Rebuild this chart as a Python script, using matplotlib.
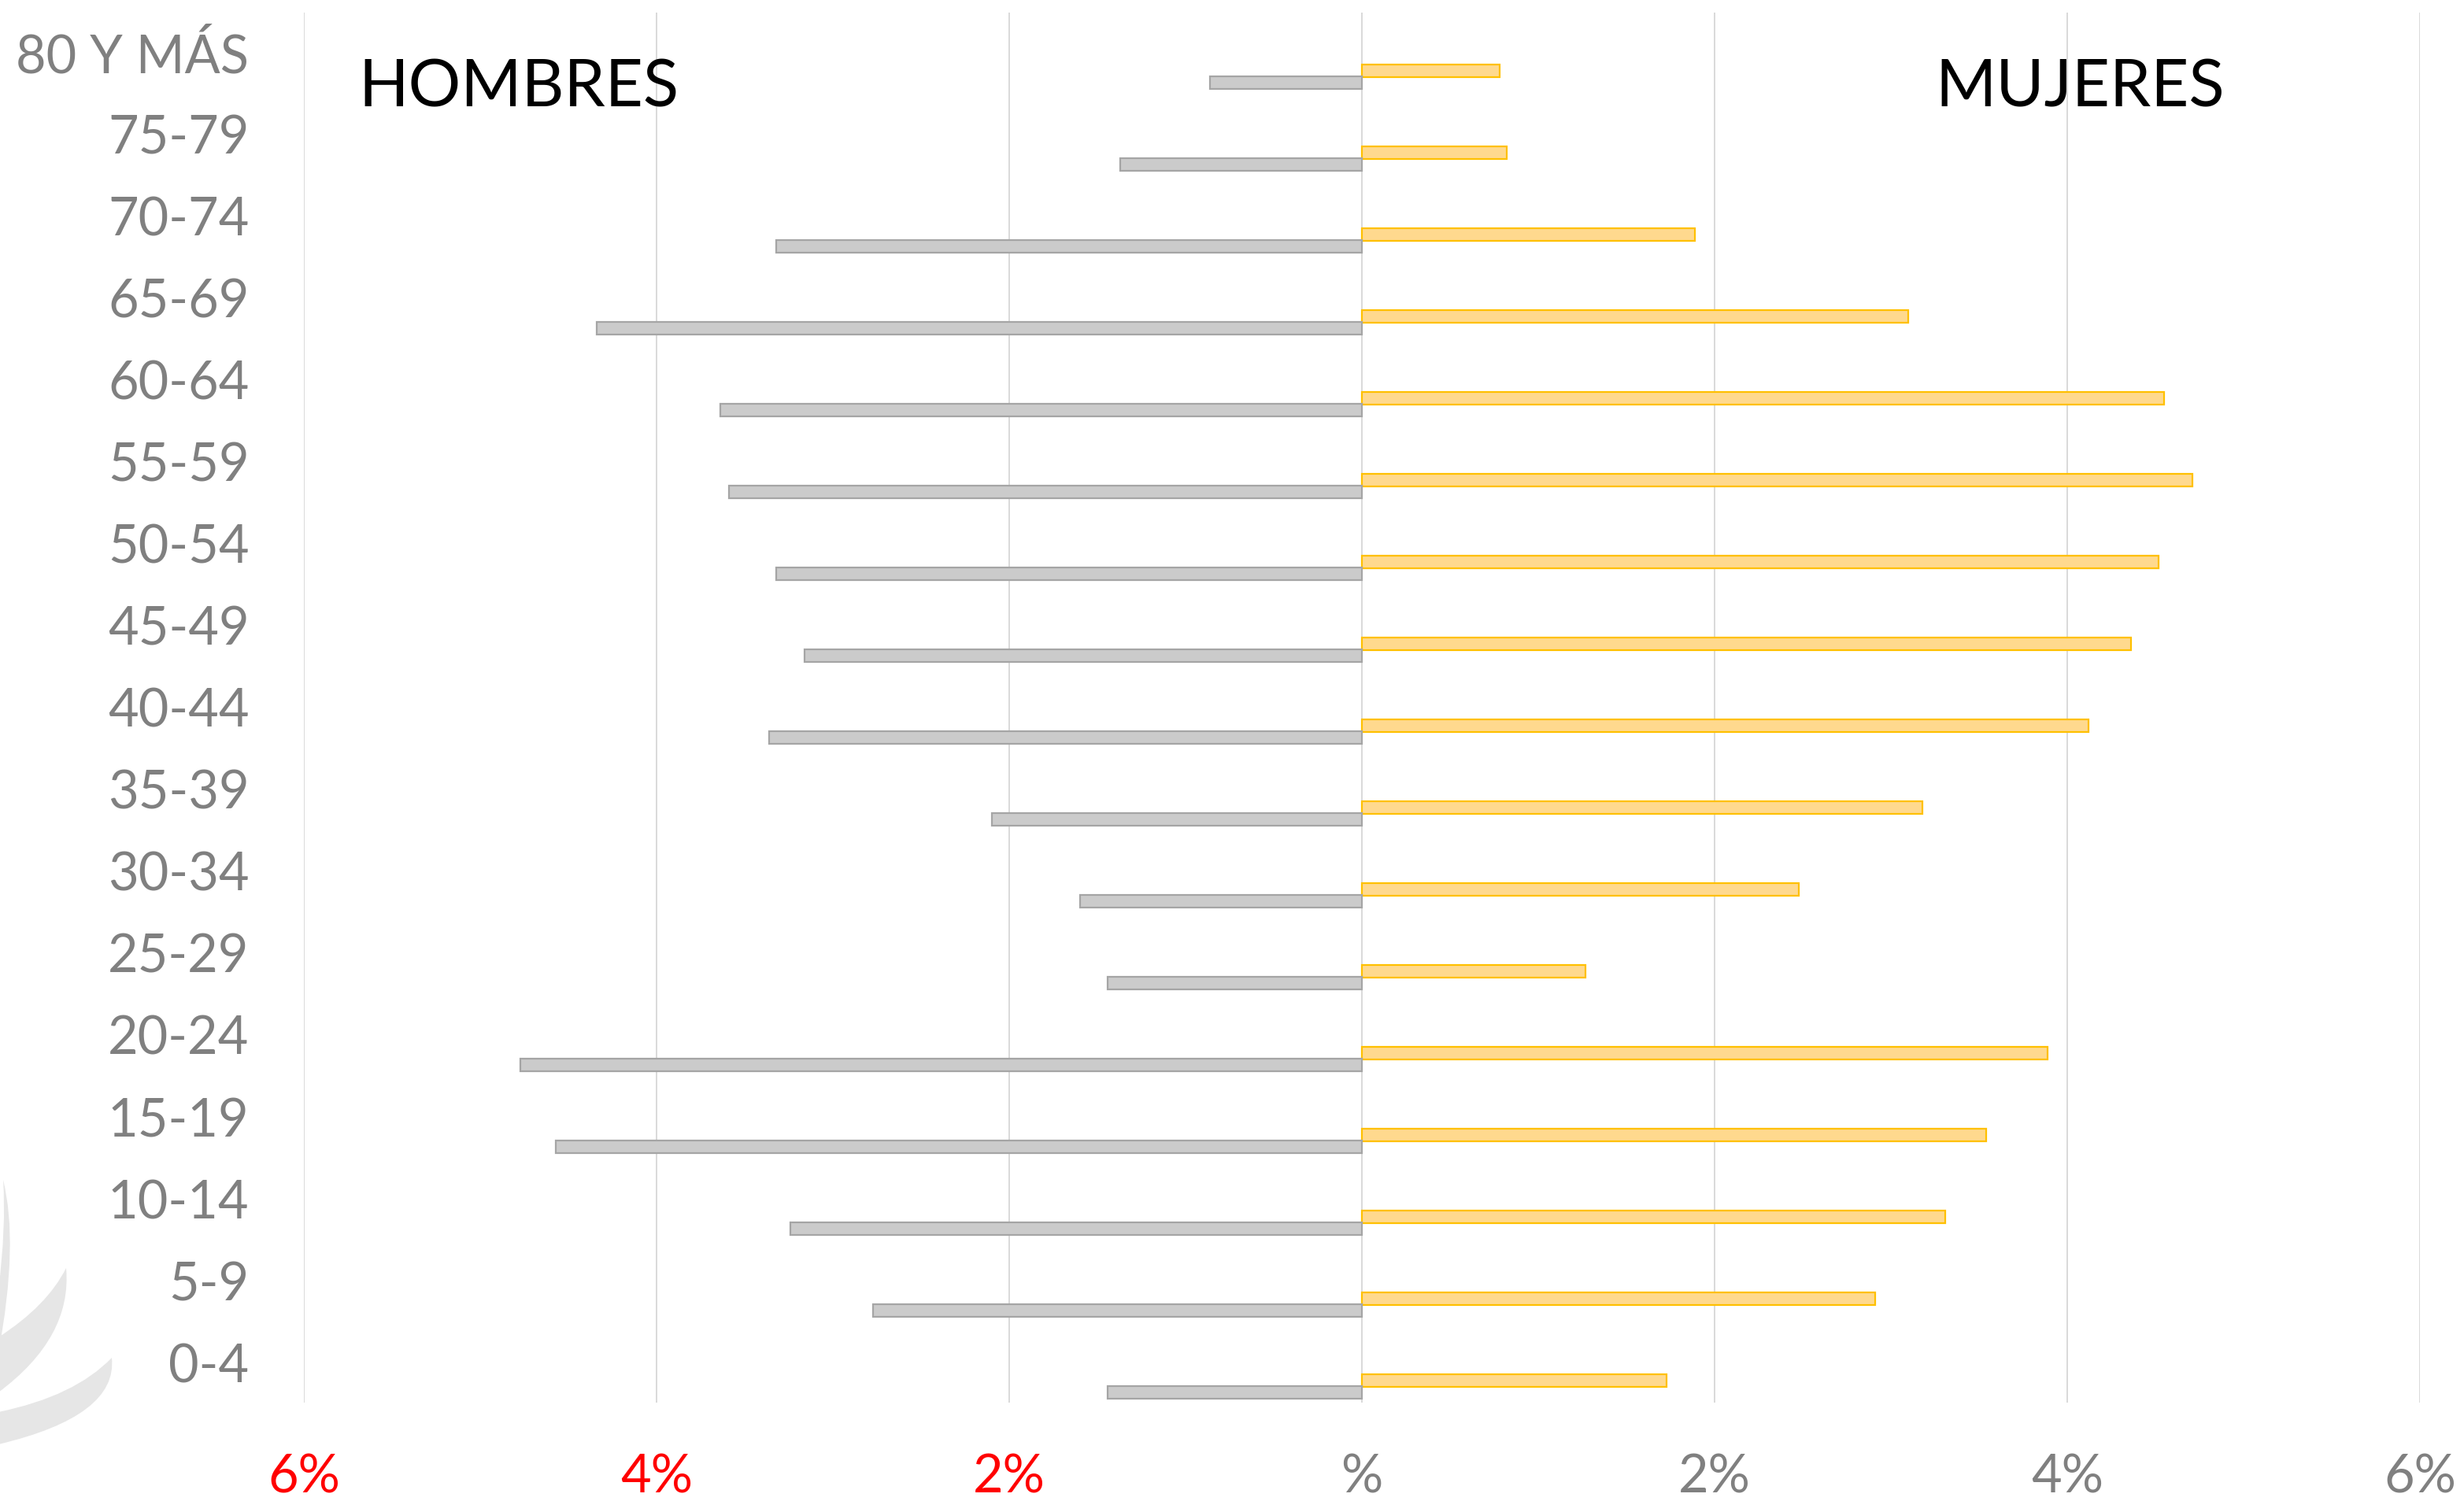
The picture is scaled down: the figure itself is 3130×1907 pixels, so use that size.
import numpy as np
from matplotlib import pyplot as plt
from matplotlib.path import Path
from matplotlib.patches import PathPatch

# grupos de edad, de abajo hacia arriba
grupos = ["0-4", "5-9", "10-14", "15-19", "20-24", "25-29", "30-34", "35-39",
          "40-44", "45-49", "50-54", "55-59", "60-64", "65-69", "70-74",
          "75-79", "80 Y MÁS"]
# % de la población
hombres = [1.44, 2.77, 3.24, 4.57, 4.77, 1.44, 1.60, 2.10, 3.36, 3.16, 3.32,
           3.59, 3.64, 4.34, 3.32, 1.37, 0.86]
mujeres = [1.73, 2.91, 3.31, 3.54, 3.89, 1.27, 2.48, 3.18, 4.12, 4.36, 4.52,
           4.71, 4.55, 3.10, 1.89, 0.82, 0.78]
ticks_x = [-6, -4, -2, 0, 2, 4, 6]
labels_x = ["6%", "4%", "2%", "%", "2%", "4%", "6%"]
colores_x = ["#FF0000", "#FF0000", "#FF0000", "#808080", "#808080", "#808080", "#808080"]

W, H = 3130, 1908

plt.rcParams["font.family"] = ["Lato", "DejaVu Sans"]

fig = plt.figure(figsize=(W / 100, H / 100), dpi=100)


def creciente(tip, c1, end1, end2, c2):
    # media luna en pixeles (y hacia abajo) -> fraccion de figura
    pts = [tip, c1, end1, end2, c2, tip, tip]
    pts = [(x / W, 1 - yy / H) for x, yy in pts]
    codes = [Path.MOVETO, Path.CURVE3, Path.CURVE3, Path.LINETO,
             Path.CURVE3, Path.CURVE3, Path.CLOSEPOLY]
    fig.patches.append(PathPatch(Path(pts, codes), transform=fig.transFigure,
                                 facecolor="#E6E6E6", edgecolor="none"))


# marca de agua (logo) abajo a la izquierda
creciente((4, 1500), (24, 1580), (-2, 1720), (-2, 1640), (8, 1560))
creciente((84, 1612), (92, 1700), (-2, 1770), (-2, 1700), (60, 1660))
creciente((142, 1726), (150, 1800), (-2, 1836), (-2, 1795), (95, 1775))

ax = fig.add_axes([0.1233, 0.0655, 0.8588, 0.9256])
ax.patch.set_alpha(0)

y = np.arange(len(grupos))
h = 0.154
ax.barh(y - 0.23, mujeres, height=h, color="#FFD98E", edgecolor="#FFC000",
        linewidth=1.6, zorder=3)
ax.barh(y - 0.375, -np.array(hombres), height=h, color="#CBCBCB",
        edgecolor="#A5A5A5", linewidth=1.6, zorder=3)

ax.set_xlim(-6, 6)
ax.set_ylim(-0.5, 16.48)
ax.set_xticks(ticks_x)
ax.set_xticklabels(labels_x, fontsize=48)
for t, c in zip(ax.get_xticklabels(), colores_x):
    t.set_color(c)
ax.set_yticks(y)
ax.set_yticklabels(grupos, fontsize=48, color="#808080")
ax.tick_params(axis="x", length=0, pad=46)
ax.tick_params(axis="y", length=0, pad=50)
ax.grid(axis="x", color="#D9D9D9", linewidth=1.4, zorder=0)
for s in ax.spines.values():
    s.set_visible(False)

ax.text(0.026, 0.946, "HOMBRES", transform=ax.transAxes, fontsize=60,
        color="black", va="center", ha="left")
ax.text(0.771, 0.946, "MUJERES", transform=ax.transAxes, fontsize=60,
        color="black", va="center", ha="left")

fig.savefig("out.png", dpi=100)
